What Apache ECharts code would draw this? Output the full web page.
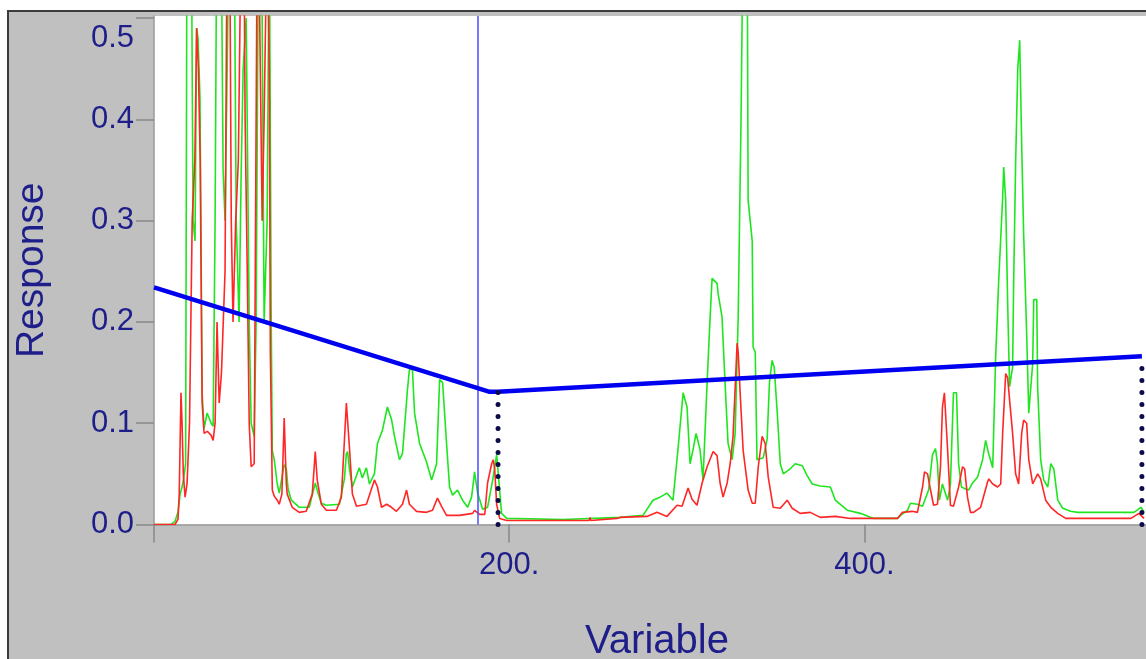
<!DOCTYPE html>
<html>
<head>
<meta charset="utf-8">
<script src="https://cdn.jsdelivr.net/npm/echarts@6.0.0/dist/echarts.min.js"></script>
<style>
  html, body { margin: 0; padding: 0; background: #ffffff; }
  #panel { position: absolute; left: 7px; top: 10px; width: 1139px; height: 649px;
           background: #c0c0c0; border-top: 2px solid #3c3c3c; border-left: 2px solid #3c3c3c; box-sizing: border-box; }
  #chart { position: absolute; left: 0; top: 0; width: 1146px; height: 659px; }
</style>
</head>
<body>
<div id="panel"></div>
<div id="chart"></div>
<script>
// ---- data ----
const yTicks = [0, 0.1, 0.2, 0.3, 0.4, 0.5];
const xTicks = [0, 200, 400];
const xLabelValues = [200, 400];

const greenPts = [
  [0,0],[9.6,0],[11.8,0.003],[13.5,0.012],[14.7,0.03],[15.8,0.037],[17,0.049],[17.8,0.06],
  [18.6,0.62],[20,0.68],[21,0.6],[22,0.3],[23.1,0.28],[24,0.49],[24.8,0.48],[25.9,0.42],
  [27.1,0.13],[28.2,0.095],[29.9,0.11],[31,0.11],[32.2,0.1],[33.3,0.097],[34.4,0.3],[35.5,0.65],
  [36.7,0.7],[37.8,0.6],[38.9,0.35],[40,0.3],[41.2,0.45],[42.3,0.6],[44,0.75],[45.1,0.6],
  [46.3,0.3],[47.9,0.2],[49.1,0.35],[50.2,0.45],[51.9,0.5],[53.6,0.2],[54.7,0.1],[56.4,0.087],
  [57.5,0.2],[59.2,0.7],[60.9,0.5],[62,0.2],[63.7,0.3],[64.9,0.6],[66,0.2],[66.6,0.073],
  [67.7,0.064],[69.4,0.04],[70.5,0.031],[71.6,0.032],[73.3,0.059],[74.5,0.055],[75.5,0.035],[77.3,0.024],
  [81.8,0.017],[87.4,0.017],[90.8,0.041],[92.5,0.03],[94.2,0.021],[97,0.019],[104.4,0.02],[107.2,0.045],
  [108.3,0.07],[109,0.072],[110,0.055],[111.7,0.037],[115.6,0.056],[117.3,0.046],[119.6,0.056],[121.3,0.04],
  [124.1,0.05],[125.8,0.08],[128.6,0.093],[131.4,0.116],[133.7,0.104],[135.4,0.087],[138.2,0.064],[139.9,0.07],
  [142.7,0.133],[143.8,0.153],[145.5,0.153],[146.7,0.11],[149.5,0.08],[153.4,0.062],[156.3,0.044],[159.1,0.06],
  [160.8,0.143],[162.5,0.14],[164.7,0.08],[166.4,0.037],[168.1,0.029],[170.9,0.034],[173.7,0.024],[176.6,0.017],
  [178.8,0.027],[180.5,0.052],[182.2,0.031],[185,0.015],[187.8,0.017],[190.7,0.044],[192.9,0.069],[195.7,0.011],
  [198.6,0.006],[230,0.005],[262.3,0.007],[275.3,0.009],[280.9,0.024],[284.9,0.027],[288.8,0.031],[292.2,0.024],
  [295,0.074],[297.9,0.13],[300.1,0.116],[301.8,0.06],[303.5,0.074],[305.2,0.09],[307.4,0.074],[309.1,0.044],
  [311.4,0.14],[313.1,0.205],[314.2,0.243],[317,0.238],[317.6,0.228],[319.8,0.205],[321.5,0.14],[323.2,0.08],
  [325.5,0.064],[327.2,0.09],[328.9,0.205],[330.5,0.4],[331.5,0.56],[334,0.56],[334.5,0.32],[336.8,0.28],
  [337.3,0.175],[338.5,0.17],[339.5,0.064],[343,0.066],[345.2,0.084],[346.5,0.14],[348,0.162],[349.2,0.155],
  [350.9,0.11],[352.6,0.06],[354.3,0.05],[358.2,0.055],[361,0.06],[365,0.058],[367.8,0.048],[370.6,0.04],
  [375.1,0.038],[380.8,0.037],[383.6,0.024],[390.4,0.014],[397.7,0.011],[405.1,0.006],[418.6,0.006],[420.3,0.009],
  [424.2,0.014],[425.9,0.021],[429.8,0.02],[432.7,0.018],[436.1,0.034],[438.3,0.069],[440,0.075],[441.1,0.06],
  [442.2,0.024],[443.9,0.04],[446.8,0.024],[448.4,0.04],[450.1,0.13],[451.8,0.13],[453,0.06],[454.6,0.037],
  [456.9,0.035],[458.6,0.034],[460.9,0.041],[463.7,0.047],[466.5,0.064],[468.2,0.083],[469.9,0.07],[472.2,0.056],
  [473.8,0.162],[475.5,0.238],[477.8,0.323],[478.4,0.353],[479.5,0.32],[480.6,0.22],[481.7,0.136],[483.4,0.155],
  [484,0.24],[485.1,0.357],[486.3,0.45],[487.4,0.478],[488.5,0.376],[489.6,0.288],[491.3,0.189],[492.5,0.11],
  [494.7,0.159],[495.3,0.222],[497,0.222],[497.5,0.136],[499.2,0.064],[500.9,0.044],[503.2,0.037],[504.9,0.06],
  [506.6,0.055],[508.8,0.024],[511.6,0.016],[516.1,0.013],[520.1,0.012],[551.7,0.012],[555.7,0.017],[557.4,0.012]
];

const redPts = [
  [0,0],[11.8,0],[13.5,0.005],[14.2,0.03],[15.2,0.13],[15.8,0.1],[16.5,0.05],[17.5,0.027],
  [18.6,0.04],[20,0.1],[21.5,0.3],[23,0.36],[24,0.49],[25,0.45],[26,0.36],[27.1,0.12],
  [28.2,0.09],[30,0.092],[32.2,0.088],[33.3,0.083],[34.4,0.1],[35.5,0.2],[36.7,0.12],[38,0.15],
  [40,0.25],[41.2,0.6],[42.3,0.7],[43.5,0.3],[44.5,0.2],[46,0.3],[47.5,0.36],[49.1,0.6],
  [50.2,0.7],[51.3,0.4],[52.5,0.25],[53.6,0.1],[54.7,0.057],[56.4,0.06],[57.5,0.4],[58.5,0.7],
  [59.5,0.5],[60.9,0.3],[62,0.4],[63.7,0.6],[64.9,0.45],[65.5,0.17],[66.6,0.034],[67.7,0.028],
  [69.4,0.024],[70.5,0.02],[72,0.03],[73.3,0.105],[74.5,0.04],[75,0.03],[77.8,0.017],[81.8,0.012],
  [85.7,0.013],[89.1,0.03],[90.8,0.072],[91.9,0.044],[94.2,0.02],[97,0.014],[102.7,0.014],[105.5,0.027],
  [107.2,0.083],[108.3,0.12],[110,0.077],[111.7,0.03],[114,0.018],[119.6,0.02],[124.1,0.044],[125.8,0.037],
  [128.1,0.017],[131,0.02],[133.7,0.017],[136.5,0.013],[139.9,0.02],[142.2,0.034],[143.8,0.02],[147.8,0.013],
  [153.4,0.012],[156.8,0.014],[159.6,0.026],[161.9,0.018],[164.7,0.009],[172,0.009],[179.4,0.011],[180.5,0.014],
  [183.3,0.01],[186.2,0.01],[187.8,0.041],[190.1,0.06],[191,0.064],[191.8,0.055],[192.9,0.02],[194.6,0.006],
  [198.6,0.004],[245,0.004],[245.4,0.007],[246,0.004],[260.6,0.006],[262.3,0.007],[277.5,0.008],[283.2,0.012],
  [288.8,0.008],[294.5,0.019],[297.3,0.018],[300.7,0.036],[302.9,0.025],[305.7,0.019],[308.6,0.041],[311.4,0.057],
  [314.8,0.072],[317,0.068],[318.7,0.041],[320.4,0.027],[322.7,0.041],[324.4,0.06],[326,0.087],[328.3,0.179],
  [328.9,0.17],[330,0.13],[331.7,0.073],[334.5,0.034],[336.8,0.021],[338.5,0.021],[340.2,0.057],[342.4,0.087],
  [344.1,0.08],[345.8,0.047],[348.6,0.017],[352.6,0.016],[356.5,0.024],[359.3,0.016],[363.8,0.011],[369.5,0.012],
  [375.1,0.007],[383.6,0.008],[392.1,0.006],[418.6,0.006],[421.4,0.012],[427,0.013],[429.8,0.012],[432.7,0.037],
  [433.8,0.052],[435.5,0.05],[437.2,0.034],[438.9,0.019],[441.1,0.02],[442.8,0.057],[443.9,0.116],[445,0.13],
  [446.8,0.074],[448.4,0.019],[450.1,0.018],[453,0.037],[455.2,0.057],[456.4,0.055],[458,0.027],[459.7,0.012],
  [461.4,0.012],[465.4,0.017],[469.3,0.042],[470,0.045],[472.2,0.04],[475,0.037],[476.7,0.04],[477.8,0.09],
  [479.5,0.149],[480.6,0.145],[481.7,0.123],[483.4,0.09],[485.1,0.05],[486.8,0.04],[488.5,0.09],[489.6,0.103],
  [491.3,0.1],[492.5,0.064],[494.7,0.04],[497.5,0.05],[499.2,0.045],[502,0.024],[504.9,0.017],[508.8,0.011],
  [513.3,0.006],[550,0.006],[554.5,0.011],[557.4,0.006]
];

const limitPts = [[0,0.234],[189,0.131],[193.7,0.131],[556.2,0.166]];
const dropLeft = [[193.7,0],[193.7,0.131]];
const dropRight = [[556.2,0],[556.2,0.156]];
const cursorX = 182.3;

// ---- chart ----
const textColor = '#1e1e8a';
const font = '"Liberation Sans", Arial, sans-serif';
const chart = echarts.init(document.getElementById('chart'), null, { renderer: 'canvas' });

chart.setOption({
  animation: false,
  backgroundColor: 'transparent',
  grid: {
    left: 154, right: 0, top: 16, bottom: 134.5,
    outerBoundsMode: 'none', containLabel: false,
    show: true, backgroundColor: '#ffffff', borderWidth: 0
  },
  xAxis: {
    type: 'value', min: 0, max: 558.5,
    name: 'Variable', nameLocation: 'middle', nameGap: 97,
    nameTextStyle: { color: textColor, fontSize: 40, fontFamily: font, padding: [0, 0, 0, 14] },
    axisLine: { show: true, lineStyle: { color: '#9a9a9a', width: 1.5 } },
    axisTick: { show: true, length: 18, customValues: xTicks, lineStyle: { color: '#888888', width: 1.5 } },
    axisLabel: {
      customValues: xLabelValues, margin: 25,
      color: textColor, fontSize: 31, fontFamily: font,
      formatter: v => v + '.'
    },
    splitLine: { show: false }
  },
  yAxis: {
    type: 'value', min: 0, max: 0.502,
    name: 'Response', nameLocation: 'middle', nameGap: 102, nameRotate: 90,
    nameTextStyle: { color: textColor, fontSize: 39, fontFamily: font },
    axisLine: { show: true, lineStyle: { color: '#9a9a9a', width: 1.5 } },
    axisTick: { show: true, length: 18, customValues: yTicks, lineStyle: { color: '#888888', width: 1.5 } },
    axisLabel: {
      customValues: yTicks, margin: 20,
      color: textColor, fontSize: 31, fontFamily: font,
      formatter: v => (Math.abs(v - 0.5) < 1e-9 ? '{top|0.5}' : v.toFixed(1)),
      rich: { top: { padding: [40, 0, 0, 0], color: textColor, fontSize: 31, fontFamily: font } }
    },
    splitLine: { show: false }
  },
  series: [
    {
      type: 'line', name: 'green', data: greenPts, symbol: 'none', clip: true,
      lineStyle: { color: '#1ee61e', width: 1.6 }, z: 2
    },
    {
      type: 'line', name: 'red', data: redPts, symbol: 'none', clip: true,
      lineStyle: { color: '#ff2626', width: 1.6 }, z: 3,
      markLine: {
        silent: true, symbol: 'none', label: { show: false },
        lineStyle: { color: '#4d4dff', width: 1.5, type: 'solid' },
        data: [{ xAxis: cursorX }]
      }
    },
    {
      type: 'line', name: 'limit', data: limitPts, symbol: 'none',
      lineStyle: { color: '#0000f0', width: 4.5 }, z: 5
    },
    {
      type: 'line', name: 'dropL', data: dropLeft, symbol: 'none',
      lineStyle: { color: '#0c0c4a', width: 5, type: [0.1, 11.9], cap: 'round' }, z: 6
    },
    {
      type: 'line', name: 'dropR', data: dropRight, symbol: 'none',
      lineStyle: { color: '#0c0c4a', width: 5, type: [0.1, 11.9], cap: 'round' }, z: 6
    }
  ]
});
</script>
</body>
</html>
